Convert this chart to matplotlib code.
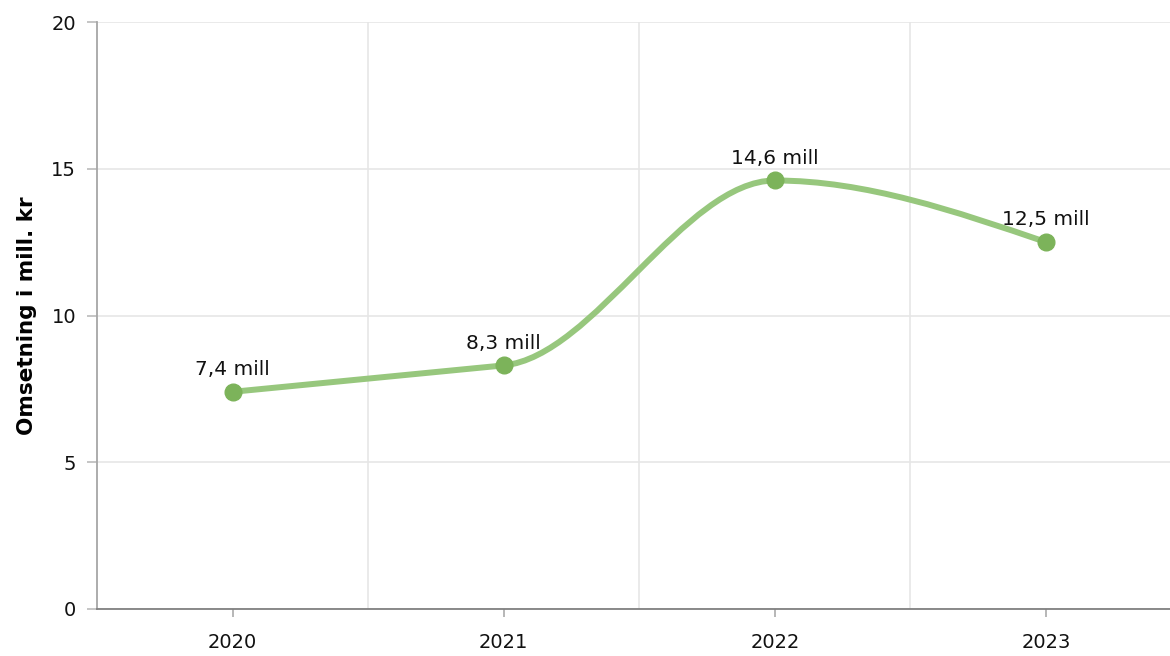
import matplotlib.pyplot as plt
from matplotlib.path import Path
from matplotlib.patches import PathPatch

years = ['2020', '2021', '2022', '2023']
values = [7.4, 8.3, 14.6, 12.5]
labels = ['7,4 mill', '8,3 mill', '14,6 mill', '12,5 mill']

line_col = '#97c77d'
dot_col = '#7cb35a'


# monotone cubic (no false extremes), drawn as bezier segments
def smooth_path(xs, ys):
    n = len(xs)
    s = [(ys[i + 1] - ys[i]) / (xs[i + 1] - xs[i]) for i in range(n - 1)]
    t = [0.0] * n
    for i in range(1, n - 1):
        if s[i - 1] * s[i] > 0:
            t[i] = min(abs(s[i - 1]), abs(s[i])) * (1 if s[i] > 0 else -1)
    t[0] = (3 * s[0] - t[1]) / 2
    t[-1] = (3 * s[-1] - t[-2]) / 2
    verts = [(xs[0], ys[0])]
    codes = [Path.MOVETO]
    for i in range(n - 1):
        h = (xs[i + 1] - xs[i]) / 3
        verts += [(xs[i] + h, ys[i] + t[i] * h),
                  (xs[i + 1] - h, ys[i + 1] - t[i + 1] * h),
                  (xs[i + 1], ys[i + 1])]
        codes += [Path.CURVE4] * 3
    return Path(verts, codes)


fig = plt.figure(figsize=(11.7, 6.56), dpi=100)
ax = fig.add_axes([97 / 1170, 47 / 656, 1 - 97 / 1170, (609 - 22) / 656])

xs = list(range(len(years)))
ax.add_patch(PathPatch(smooth_path(xs, values), fill=False, edgecolor=line_col,
                       lw=4.3, capstyle='round', zorder=3))
ax.plot(xs, values, 'o', color=dot_col, markersize=12, zorder=4)

for x, v, t in zip(xs, values, labels):
    ax.annotate(t, (x, v), xytext=(0, 12), textcoords='offset points',
                ha='center', va='baseline', fontsize=14.5, color='#111111')

ax.set_xlim(-0.5, (1170 - 232) / 271.33)
ax.set_ylim(0, 20)
ax.set_xticks(xs)
ax.set_xticklabels(years)
ax.set_xticks([0.5, 1.5, 2.5], minor=True)
ax.set_yticks([0, 5, 10, 15, 20])

ax.grid(True, axis='y', color='#e6e6e6', lw=1.2)
ax.grid(True, axis='x', which='minor', color='#e6e6e6', lw=1.2)
ax.set_axisbelow(True)

for s in ['top', 'right']:
    ax.spines[s].set_visible(False)
ax.spines['left'].set_color('#a6a6a6')
ax.spines['bottom'].set_color('#808080')
ax.spines['left'].set_linewidth(1.3)
ax.spines['bottom'].set_linewidth(1.3)

ax.tick_params(axis='y', length=7, width=1.2, color='#bbbbbb', pad=8,
               labelsize=14, labelcolor='#111111')
ax.tick_params(axis='x', which='major', length=6, width=1.2, color='#aaaaaa',
               pad=11, labelsize=14, labelcolor='#111111')
ax.tick_params(axis='x', which='minor', length=0)

ax.set_ylabel('Omsetning i mill. kr', fontsize=15.5, fontweight='bold', labelpad=10)

fig.savefig('out.png', dpi=100)
